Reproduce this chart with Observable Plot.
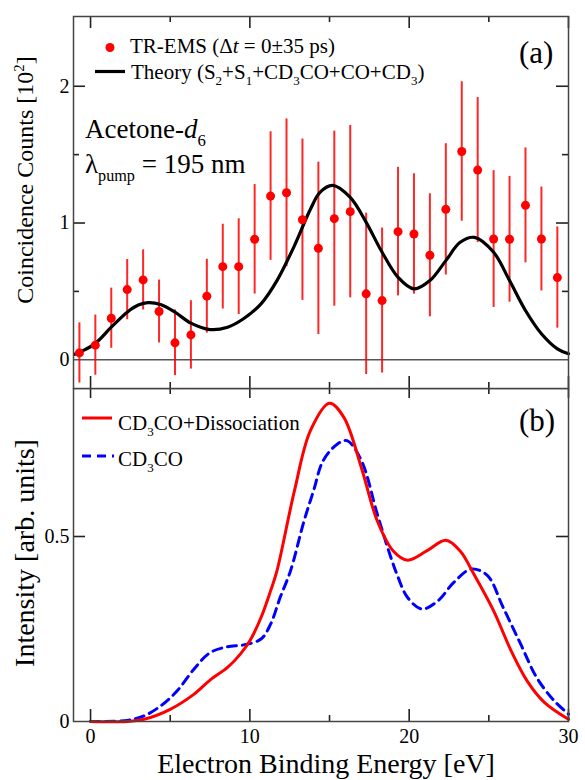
<!DOCTYPE html>
<html>
<head>
<meta charset="utf-8">
<script src="https://cdn.jsdelivr.net/npm/d3@7"></script>
<script src="https://cdn.jsdelivr.net/npm/@observablehq/plot@0.6"></script>
<style>
  html, body { margin: 0; padding: 0; background: #fff; }
  #chart svg { display: block; }
</style>
</head>
<body>
<div id="chart"></div>
<script>
// ---------- Panel (a): TR-EMS experimental data ----------
const expEnergy = [-0.7, 0.3, 1.3, 2.3, 3.3, 4.3, 5.3, 6.3, 7.3, 8.3, 9.3, 10.3, 11.3, 12.3, 13.3, 14.3,
                   15.3, 16.3, 17.3, 18.3, 19.3, 20.3, 21.3, 22.3, 23.3, 24.3, 25.3, 26.3, 27.3, 28.3, 29.3];
const expCounts = [0.05, 0.107, 0.304, 0.513, 0.584, 0.353, 0.124, 0.182, 0.465, 0.681, 0.681, 0.881, 1.197, 1.221, 1.024, 0.815,
                   1.032, 1.083, 0.482, 0.433, 0.937, 0.92, 0.764, 1.10, 1.523, 1.387, 0.883, 0.881, 1.129, 0.883, 0.601];
const expError = [0.22, 0.22, 0.22, 0.22, 0.22, 0.23, 0.24, 0.25, 0.27, 0.31, 0.35, 0.40, 0.47, 0.54, 0.59, 0.63,
                  0.64, 0.63, 0.59, 0.53, 0.47, 0.44, 0.45, 0.48, 0.51, 0.53, 0.50, 0.46, 0.42, 0.38, 0.37];

// Theory (S2+S1+CD3CO+CO+CD3)
const theoryEnergy = [-1.0, -0.5, 0.3, 1.3, 2.3, 3.0, 3.6, 4.4, 5.3, 6.3, 7.5, 8.6, 9.6, 10.7, 11.7, 12.8, 13.8, 14.4,
                      15.2, 16.3, 17.3, 18.3, 19.3, 20.3, 21.3, 22.3, 23.2, 24.1, 25.3, 26.3, 27.3, 28.3, 29.3, 30.0];
const theoryCounts = [0.04, 0.065, 0.12, 0.238, 0.348, 0.40, 0.418, 0.404, 0.348, 0.268, 0.221, 0.238, 0.30, 0.409, 0.579, 0.835, 1.10, 1.224,
                      1.275, 1.187, 1.005, 0.786, 0.603, 0.518, 0.579, 0.725, 0.859, 0.895, 0.786, 0.579, 0.36, 0.19, 0.08, 0.044];

// ---------- Panel (b): simulated spectra ----------
const dissEnergy = [0, 2.3, 3.35, 5.0, 6.5, 7.5, 8.6, 9.4, 10.0, 10.7, 11.3, 11.7, 12.8, 13.8, 15.0, 15.9, 17.0, 18.0,
                    19.0, 19.9, 21.1, 22.3, 23.2, 24.1, 25.3, 26.4, 27.4, 28.5, 30.0];
const dissIntensity = [0, 0.0, 0.006, 0.033, 0.074, 0.112, 0.146, 0.182, 0.218, 0.281, 0.353, 0.407, 0.624, 0.786, 0.86, 0.822, 0.686, 0.542,
                       0.461, 0.436, 0.461, 0.49, 0.461, 0.395, 0.299, 0.191, 0.11, 0.051, 0.006];

const cd3coEnergy = [0, 2.3, 3.35, 4.4, 5.44, 6.5, 7.5, 8.6, 9.6, 10.7, 11.3, 11.9, 12.55, 13.4, 14.0, 14.6, 15.5, 16.1,
                     17.0, 18.0, 18.8, 19.3, 19.9, 20.8, 21.8, 22.8, 23.9, 24.9, 25.9, 27.0, 28.0, 29.1, 30.0];
const cd3coIntensity = [0, 0.003, 0.015, 0.042, 0.083, 0.142, 0.186, 0.202, 0.207, 0.223, 0.263, 0.335, 0.407, 0.542, 0.624, 0.705, 0.75, 0.759,
                        0.705, 0.56, 0.45, 0.39, 0.335, 0.304, 0.326, 0.376, 0.412, 0.395, 0.308, 0.209, 0.119, 0.056, 0.02];

// ---------- Axes ----------
const xDomain = [-1.07, 30];
const xMajorTicks = [0, 10, 20, 30];
const xMinorTicks = [5, 15, 25];
const yDomainA = [-0.21, 2.51];
const yLabelTicksA = [0, 1, 2];
const yMajorTicksA = [1, 2];
const yMinorTicksA = [0.5, 1.5];
const yDomainB = [0, 0.9];
const yLabelTicksB = [0, 0.5];
const yMajorTicksB = [0.5];

const SERIF = "'Liberation Serif','Times New Roman',serif";
const RED = "#ff0000";
const BLUE = "#0000ff";
const TICK = "#222";

const W = 585, ML = 73, MR = 17;
const PW = W - ML - MR;          // inner plot width
const HA = 388, MTA = 16, MBA = 0;
const HB = 392, MTB = 0, MBB = 59;
const PHA = HA - MTA - MBA;      // inner height panel a
const PHB = HB - MTB - MBB;      // inner height panel b

const expPoints = expEnergy.map((x, i) => ({x, y: expCounts[i], e: expError[i]}));
const theory = theoryEnergy.map((x, i) => ({x, y: theoryCounts[i]}));
const diss = dissEnergy.map((x, i) => ({x, y: dissIntensity[i]}));
const cd3co = cd3coEnergy.map((x, i) => ({x, y: cd3coIntensity[i]}));

// inward tick marks (tick length given in pixels, converted to data units)
const tk = {stroke: TICK, strokeWidth: 1.6};
const xPer = (xDomain[1] - xDomain[0]) / PW;
function frameTicks(yDom, ph, spec) {
  const yPer = (yDom[1] - yDom[0]) / ph;
  const marks = [];
  for (const [side, ticks, len] of spec) {
    if (side === "top") marks.push(Plot.ruleX(ticks, {x: d => d, y1: yDom[1], y2: yDom[1] - len * yPer, ...tk}));
    if (side === "bottom") marks.push(Plot.ruleX(ticks, {x: d => d, y1: yDom[0], y2: yDom[0] + len * yPer, ...tk}));
    if (side === "left") marks.push(Plot.ruleY(ticks, {y: d => d, x1: xDomain[0], x2: xDomain[0] + len * xPer, ...tk}));
    if (side === "right") marks.push(Plot.ruleY(ticks, {y: d => d, x1: xDomain[1], x2: xDomain[1] - len * xPer, ...tk}));
  }
  return marks;
}
const plain = d => String(d);

const plotA = Plot.plot({
  width: W, height: HA,
  marginTop: MTA, marginBottom: MBA, marginLeft: ML, marginRight: MR,
  style: {fontFamily: SERIF, fontSize: "20px", color: "#000", background: "#fff", overflow: "visible"},
  x: {domain: xDomain, axis: null},
  y: {domain: yDomainA},
  marks: [
    Plot.ruleY([0], {stroke: "#555", strokeWidth: 1.5}),
    Plot.ruleX(expPoints, {x: "x", y1: d => d.y - d.e, y2: d => d.y + d.e, stroke: RED, strokeWidth: 2, strokeOpacity: 0.85}),
    Plot.line(theory, {x: "x", y: "y", curve: "catmull-rom", stroke: "#000", strokeWidth: 3.2}),
    Plot.dot(expPoints, {x: "x", y: "y", r: 4.5, fill: RED, stroke: "none"}),
    ...frameTicks(yDomainA, PHA, [
      ["top", xMajorTicks, 12], ["top", xMinorTicks, 6],
      ["bottom", xMajorTicks, 12], ["bottom", xMinorTicks, 6],
      ["left", yMajorTicksA, 12], ["left", yMinorTicksA, 6],
      ["right", yMajorTicksA, 12], ["right", yMinorTicksA, 6]
    ]),
    Plot.axisY({anchor: "left", ticks: yLabelTicksA, tickFormat: plain, tickSize: 0, tickPadding: 4, label: null, fontSize: 20, fontFamily: SERIF}),
    Plot.frame({stroke: "#444", strokeWidth: 1.5})
  ]
});

const plotB = Plot.plot({
  width: W, height: HB,
  marginTop: MTB, marginBottom: MBB, marginLeft: ML, marginRight: MR,
  style: {fontFamily: SERIF, fontSize: "20px", color: "#000", background: "#fff"},
  x: {domain: xDomain},
  y: {domain: yDomainB},
  marks: [
    Plot.line(cd3co, {x: "x", y: "y", curve: "catmull-rom", stroke: BLUE, strokeWidth: 3, strokeDasharray: "9,6"}),
    Plot.line(diss, {x: "x", y: "y", curve: "catmull-rom", stroke: RED, strokeWidth: 3}),
    ...frameTicks(yDomainB, PHB, [
      ["top", xMajorTicks, 10], ["top", xMinorTicks, 6],
      ["bottom", xMajorTicks, 12], ["bottom", xMinorTicks, 6],
      ["left", yMajorTicksB, 12], ["right", yMajorTicksB, 12]
    ]),
    Plot.axisY({anchor: "left", ticks: yLabelTicksB, tickFormat: plain, tickSize: 0, tickPadding: 4, label: null, fontSize: 20, fontFamily: SERIF}),
    Plot.axisX({anchor: "bottom", ticks: xMajorTicks, tickFormat: plain, tickSize: 0, tickPadding: 7, label: null, fontSize: 20, fontFamily: SERIF}),
    Plot.frame({stroke: "#444", strokeWidth: 1.5})
  ]
});

const chart = document.getElementById("chart");
chart.appendChild(plotA);
chart.appendChild(plotB);

// ---------- Rich text helper (sub/superscripts, italics) ----------
function richText(parent, parts, size, attrs = {}) {
  const t = parent.append("text")
    .attr("font-family", SERIF)
    .attr("font-size", size)
    .attr("text-anchor", "start")
    .attr("fill", "#000");
  for (const [k, v] of Object.entries(attrs)) t.attr(k, v);
  let shift = 0;
  for (const p of parts) {
    const s = typeof p === "string" ? {t: p} : p;
    const target = s.sub ? size * (s.subShift || 0.3) : s.sup ? -size * 0.38 : 0;
    const ts = t.append("tspan").text(s.t).attr("dy", target - shift);
    shift = target;
    if (s.sub || s.sup) ts.attr("font-size", size * (s.scale || 0.62));
    if (s.it) ts.attr("font-style", "italic");
  }
  return t;
}

// Panel (a) annotations
const sa = d3.select(plotA);
sa.append("circle").attr("cx", 110).attr("cy", 47.5).attr("r", 4.5).attr("fill", RED);
richText(sa, ["TR-EMS (\u0394", {t: "t", it: true}, " = 0\u00b135 ps)"], 21, {x: 130, y: 53});
sa.append("line").attr("x1", 95).attr("x2", 125).attr("y1", 71.5).attr("y2", 71.5)
  .attr("stroke", "#000").attr("stroke-width", 3.2);
richText(sa, ["Theory (S", {t: "2", sub: true}, "+S", {t: "1", sub: true}, "+CD", {t: "3", sub: true},
              "CO+CO+CD", {t: "3", sub: true}, ")"], 21, {x: 131, y: 79});
richText(sa, ["(a)"], 31, {x: 519, y: 63});
richText(sa, ["Acetone-", {t: "d", it: true}, {t: "6", sub: true}], 27, {x: 85, y: 138});
richText(sa, ["\u03bb", {t: "pump", sub: true, scale: 0.6}, " = 195 nm"], 27, {x: 85, y: 173});
richText(sa, ["Coincidence Counts [10", {t: "2", sup: true}, "]"], 24,
         {x: 0, y: 0, "text-anchor": "middle", transform: "translate(33,180) rotate(-90)"});

// Panel (b) annotations
const sb = d3.select(plotB);
sb.append("line").attr("x1", 82).attr("x2", 112).attr("y1", 30).attr("y2", 30)
  .attr("stroke", RED).attr("stroke-width", 3);
richText(sb, ["CD", {t: "3", sub: true}, "CO+Dissociation"], 21, {x: 118, y: 42});
sb.append("line").attr("x1", 82).attr("x2", 114).attr("y1", 68).attr("y2", 68)
  .attr("stroke", BLUE).attr("stroke-width", 3).attr("stroke-dasharray", "9,6");
richText(sb, ["CD", {t: "3", sub: true}, "CO"], 21, {x: 118, y: 78});
richText(sb, ["(b)"], 31, {x: 519, y: 43});
richText(sb, ["Intensity [arb. units]"], 28,
         {x: 0, y: 0, "text-anchor": "middle", transform: "translate(34,165) rotate(-90)"});
richText(sb, ["Electron Binding Energy [eV]"], 28, {x: 326, y: 385, "text-anchor": "middle"});
</script>
</body>
</html>
